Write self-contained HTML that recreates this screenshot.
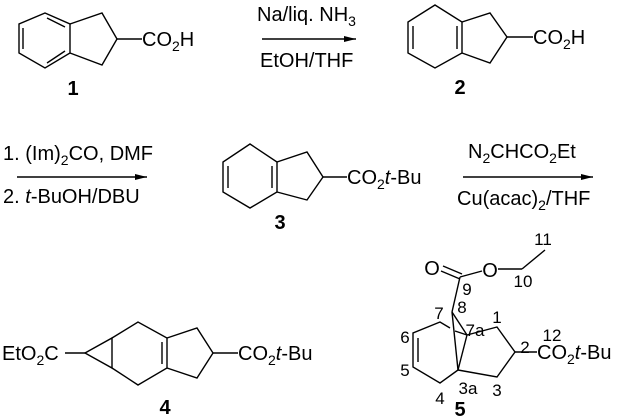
<!DOCTYPE html>
<html><head><meta charset="utf-8"><style>
html,body{margin:0;padding:0;background:#fff;}
svg{display:block;}
text{font-family:"Liberation Sans",sans-serif;fill:#000;}
.t{font-size:20px;}
.n{font-size:17px;}
.b{font-size:20px;font-weight:bold;}
</style></head><body>
<svg width="626" height="419" viewBox="0 0 626 419" xmlns="http://www.w3.org/2000/svg">
<defs><marker id="ah" markerWidth="12" markerHeight="6" refX="12" refY="3" orient="auto" markerUnits="userSpaceOnUse"><path d="M0,0 L12,3 L0,6 z" fill="#000"/></marker></defs>
<g stroke="#000" stroke-width="1.4" fill="none">
<polygon points="45,13 70,24 70,53 45,68 19,53 19,24"/>
<line x1="23" y1="28" x2="23" y2="49"/>
<line x1="47" y1="18" x2="65" y2="27"/>
<line x1="47" y1="63" x2="65" y2="51"/>
<polyline points="70,24 102,13 117,39 102,65 70,53"/>
<line x1="117" y1="39" x2="142" y2="39"/>
<line x1="262" y1="39" x2="356" y2="39" marker-end="url(#ah)"/>
<polygon points="435,5 462,22 462,53 435,68 408,53 408,22"/>
<line x1="413" y1="26" x2="413" y2="49"/>
<line x1="457" y1="26" x2="457" y2="49"/>
<polyline points="462,22 490,13 507,37 490,63 462,53"/>
<line x1="507" y1="37" x2="533" y2="37"/>
<line x1="17" y1="177" x2="147" y2="177" marker-end="url(#ah)"/>
<polygon points="250,144 277,162 277,192 250,208 223,192 223,162"/>
<line x1="228" y1="166" x2="228" y2="188"/>
<line x1="272" y1="166" x2="272" y2="188"/>
<polyline points="277,162 307,152 323,177 307,200 277,192"/>
<line x1="323" y1="177" x2="347" y2="177"/>
<line x1="463" y1="177" x2="593" y2="177" marker-end="url(#ah)"/>
<line x1="65" y1="353" x2="85" y2="353"/>
<polygon points="85,353 112,338 112,368"/>
<polyline points="112,338 138,322 167,338 167,368 138,385 112,368"/>
<line x1="162" y1="342" x2="162" y2="364"/>
<polyline points="167,338 197,328 213,353 197,378 167,368"/>
<line x1="213" y1="353" x2="238" y2="353"/>
<line x1="441" y1="271" x2="460" y2="279"/>
<line x1="443" y1="266" x2="462" y2="274"/>
<line x1="460" y1="277" x2="482" y2="271"/>
<line x1="498" y1="269" x2="522" y2="269"/>
<line x1="522" y1="269" x2="545" y2="250"/>
<line x1="460" y1="277" x2="452" y2="312"/>
<line x1="452" y1="312" x2="467" y2="335"/>
<line x1="452" y1="312" x2="458" y2="370"/>
<polyline points="467,335 497,327 515,352 497,377 458,370"/>
<line x1="458" y1="370" x2="467" y2="335"/>
<polyline points="458,370 440,383 413,367 413,333 440,322 450,328"/>
<line x1="455" y1="331" x2="467" y2="335"/>
<line x1="418" y1="338" x2="418" y2="362"/>
<line x1="515" y1="352" x2="537" y2="352"/>
</g>
<text class="t" x="142" y="46">CO<tspan font-size="14" dy="5">2</tspan><tspan dy="-5">H</tspan></text>
<text class="b" x="73" y="95" text-anchor="middle">1</text>
<text class="t" x="257" y="21">Na/liq. NH<tspan font-size="14" dy="5">3</tspan></text>
<text class="t" x="260" y="67">EtOH/THF</text>
<text class="t" x="533" y="44">CO<tspan font-size="14" dy="5">2</tspan><tspan dy="-5">H</tspan></text>
<text class="b" x="460" y="94" text-anchor="middle">2</text>
<text class="t" x="3" y="160">1. (Im)<tspan font-size="14" dy="5">2</tspan><tspan dy="-5">CO, DMF</tspan></text>
<text class="t" x="3" y="203">2. <tspan font-style="italic">t</tspan>-BuOH/DBU</text>
<text class="t" x="347" y="184">CO<tspan font-size="14" dy="5">2</tspan><tspan dy="-5" font-style="italic">t</tspan>-Bu</text>
<text class="b" x="280" y="229" text-anchor="middle">3</text>
<text class="t" x="468" y="158">N<tspan font-size="14" dy="5">2</tspan><tspan dy="-5">CHCO</tspan><tspan font-size="14" dy="5">2</tspan><tspan dy="-5">Et</tspan></text>
<text class="t" x="457" y="205">Cu(acac)<tspan font-size="14" dy="5">2</tspan><tspan dy="-5">/THF</tspan></text>
<text class="t" x="2" y="360">EtO<tspan font-size="14" dy="5">2</tspan><tspan dy="-5">C</tspan></text>
<text class="t" x="238" y="360">CO<tspan font-size="14" dy="5">2</tspan><tspan dy="-5" font-style="italic">t</tspan>-Bu</text>
<text class="b" x="165" y="414" text-anchor="middle">4</text>
<text class="t" x="432" y="275" text-anchor="middle">O</text>
<text class="t" x="490" y="277" text-anchor="middle">O</text>
<g class="n" text-anchor="middle">
<text class="n" x="543" y="245">11</text>
<text class="n" x="523" y="287">10</text>
<text class="n" x="467" y="295">9</text>
<text class="n" x="462" y="313">8</text>
<text class="n" x="439" y="319">7</text>
<text class="n" x="475" y="336">7a</text>
<text class="n" x="497" y="323">1</text>
<text class="n" x="552" y="341">12</text>
<text class="n" x="405" y="343">6</text>
<text class="n" x="525" y="353">2</text>
<text class="n" x="405" y="376">5</text>
<text class="n" x="468" y="394">3a</text>
<text class="n" x="497" y="396">3</text>
<text class="n" x="440" y="404">4</text>
</g>
<text class="t" x="537" y="359">CO<tspan font-size="14" dy="5">2</tspan><tspan dy="-5" font-style="italic">t</tspan>-Bu</text>
<text class="b" x="460" y="416" text-anchor="middle">5</text>
</svg>
</body></html>
